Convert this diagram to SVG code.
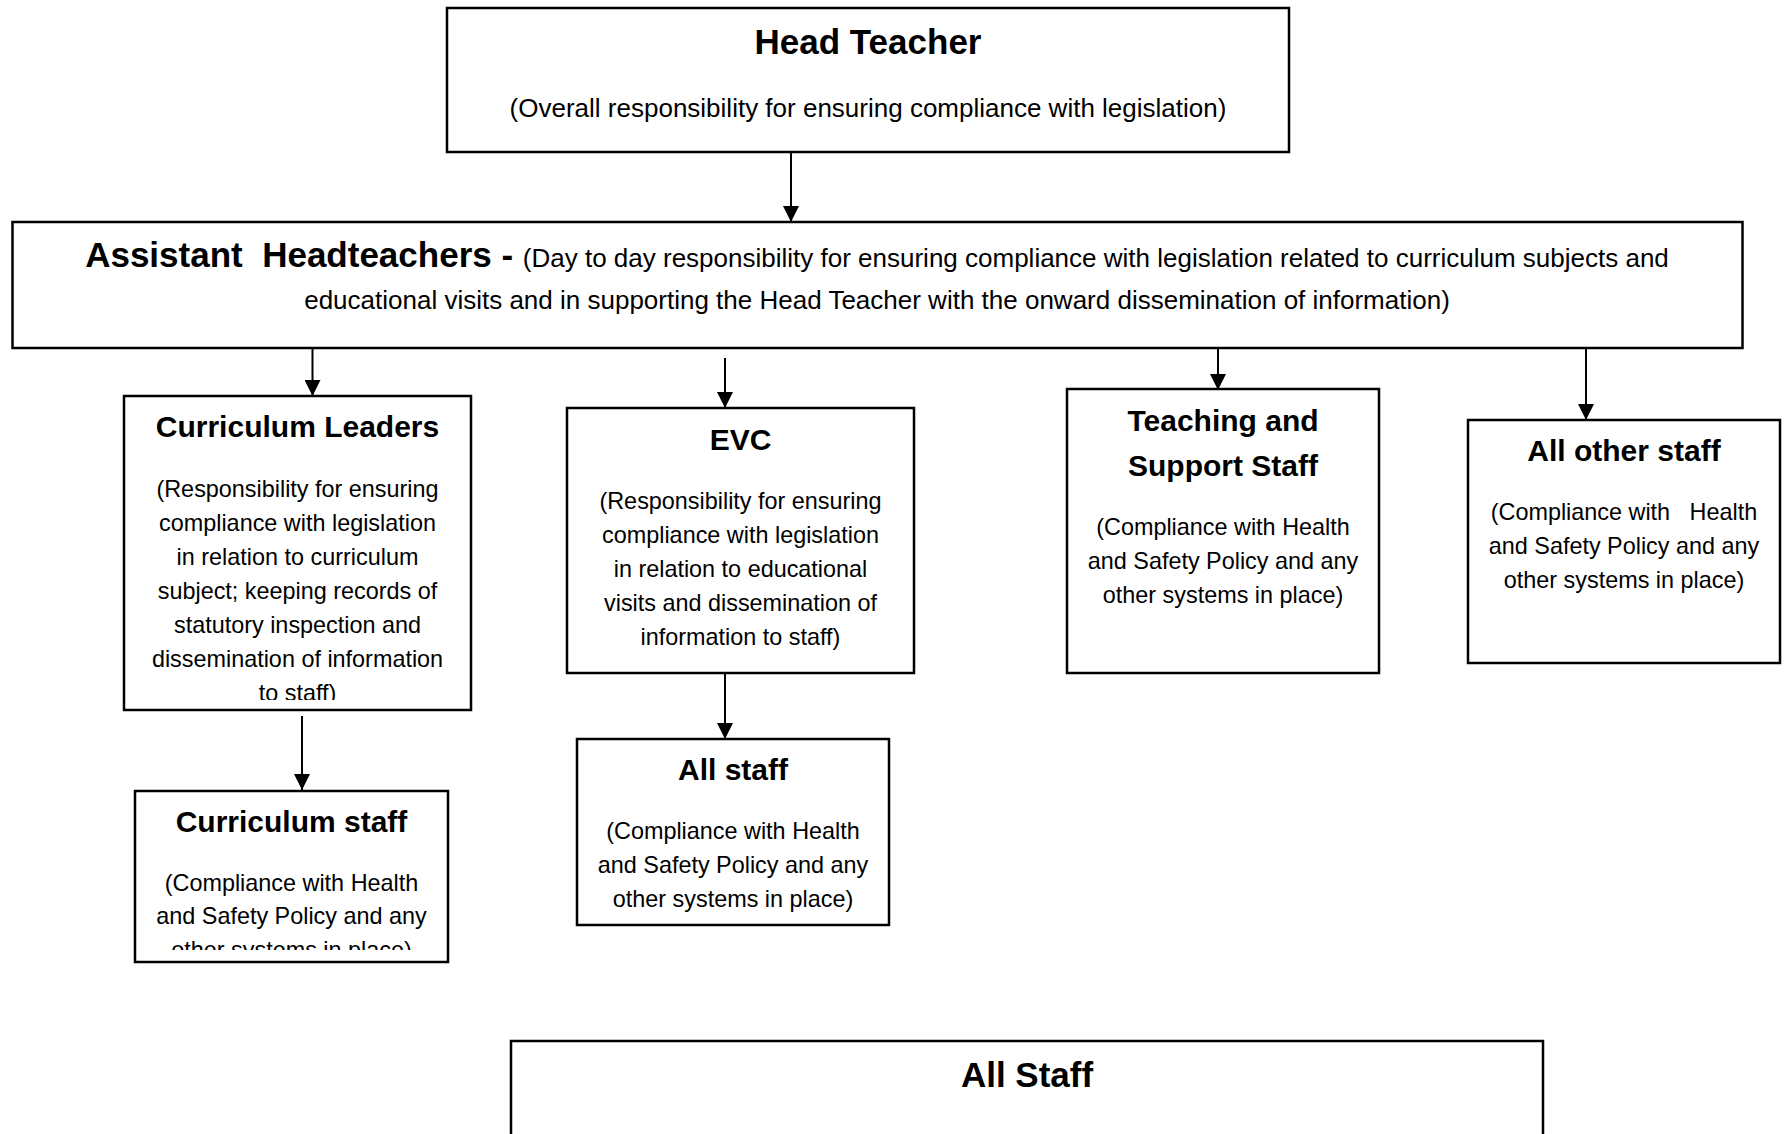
<svg xmlns="http://www.w3.org/2000/svg" width="1784" height="1134" viewBox="0 0 1784 1134">
<style>
.box{fill:#fff;stroke:#000;stroke-width:2.5}
text{font-family:"Liberation Sans",Arial,sans-serif;fill:#000;text-anchor:middle;white-space:pre}
.t1{font-size:35px;font-weight:bold}
.t2{font-size:30px;font-weight:bold}
.b1{font-size:26px}
.b2{font-size:23.4px}
.conn{stroke:#000;stroke-width:2;fill:none;marker-end:url(#arr)}
</style>
<defs>
<marker id="arr" markerUnits="userSpaceOnUse" markerWidth="16" markerHeight="16" refX="16" refY="8" orient="auto">
<path d="M0,0 L16,8 L0,16 z" fill="#000"/>
</marker>
<clipPath id="clipCL"><rect x="124" y="396" width="347" height="304"/></clipPath>
<clipPath id="clipCS"><rect x="135" y="791" width="313" height="159"/></clipPath>
</defs>
<rect width="1784" height="1134" fill="#fff"/>

<g id="connectors">
<line class="conn" x1="791" y1="152" x2="791" y2="222"/>
<line class="conn" x1="312.5" y1="348" x2="312.5" y2="396"/>
<line class="conn" x1="725" y1="358" x2="725" y2="408"/>
<line class="conn" x1="1218" y1="348" x2="1218" y2="390"/>
<line class="conn" x1="1586" y1="348" x2="1586" y2="420"/>
<line class="conn" x1="302" y1="716" x2="302" y2="790"/>
<line class="conn" x1="725" y1="673" x2="725" y2="739"/>
</g>

<g id="head-teacher">
<rect class="box" x="447" y="8" width="842" height="144"/>
<text class="t1" x="868" y="54">Head Teacher</text>
<text class="b1" x="868" y="117">(Overall responsibility for ensuring compliance with legislation)</text>
</g>

<g id="assistant-headteachers">
<rect class="box" x="12.5" y="222" width="1730" height="126"/>
<text x="877" y="267"><tspan class="t1">Assistant  Headteachers - </tspan><tspan class="b1">(Day to day responsibility for ensuring compliance with legislation related to curriculum subjects and</tspan></text>
<text class="b1" x="877" y="309">educational visits and in supporting the Head Teacher with the onward dissemination of information)</text>
</g>

<g id="curriculum-leaders">
<rect class="box" x="124" y="396" width="347" height="314"/>
<text class="t2" x="297.5" y="437">Curriculum Leaders</text>
<g clip-path="url(#clipCL)">
<text class="b2" x="297.5" y="497">(Responsibility for ensuring</text>
<text class="b2" x="297.5" y="531">compliance with legislation</text>
<text class="b2" x="297.5" y="565">in relation to curriculum</text>
<text class="b2" x="297.5" y="599">subject; keeping records of</text>
<text class="b2" x="297.5" y="633">statutory inspection and</text>
<text class="b2" x="297.5" y="667">dissemination of information</text>
<text class="b2" x="297.5" y="701">to staff)</text>
</g>
</g>

<g id="evc">
<rect class="box" x="567" y="408" width="347" height="265"/>
<text class="t2" x="740.5" y="450">EVC</text>
<text class="b2" x="740.5" y="509">(Responsibility for ensuring</text>
<text class="b2" x="740.5" y="543">compliance with legislation</text>
<text class="b2" x="740.5" y="577">in relation to educational</text>
<text class="b2" x="740.5" y="611">visits and dissemination of</text>
<text class="b2" x="740.5" y="645">information to staff)</text>
</g>

<g id="teaching-support-staff">
<rect class="box" x="1067" y="389" width="312" height="284"/>
<text class="t2" x="1223" y="431">Teaching and</text>
<text class="t2" x="1223" y="476">Support Staff</text>
<text class="b2" x="1223" y="535">(Compliance with Health</text>
<text class="b2" x="1223" y="569">and Safety Policy and any</text>
<text class="b2" x="1223" y="603">other systems in place)</text>
</g>

<g id="all-other-staff">
<rect class="box" x="1468" y="420" width="312" height="243"/>
<text class="t2" x="1624" y="461">All other staff</text>
<text class="b2" x="1624" y="520">(Compliance with   Health</text>
<text class="b2" x="1624" y="554">and Safety Policy and any</text>
<text class="b2" x="1624" y="588">other systems in place)</text>
</g>

<g id="curriculum-staff">
<rect class="box" x="135" y="791" width="313" height="171"/>
<text class="t2" x="291.5" y="832">Curriculum staff</text>
<g clip-path="url(#clipCS)">
<text class="b2" x="291.5" y="891">(Compliance with Health</text>
<text class="b2" x="291.5" y="924">and Safety Policy and any</text>
<text class="b2" x="291.5" y="958">other systems in place)</text>
</g>
</g>

<g id="all-staff-evc">
<rect class="box" x="577" y="739" width="312" height="186"/>
<text class="t2" x="733" y="780">All staff</text>
<text class="b2" x="733" y="839">(Compliance with Health</text>
<text class="b2" x="733" y="873">and Safety Policy and any</text>
<text class="b2" x="733" y="907">other systems in place)</text>
</g>

<g id="all-staff">
<rect class="box" x="511" y="1041" width="1032" height="120"/>
<text class="t1" x="1027" y="1087">All Staff</text>
</g>
</svg>
